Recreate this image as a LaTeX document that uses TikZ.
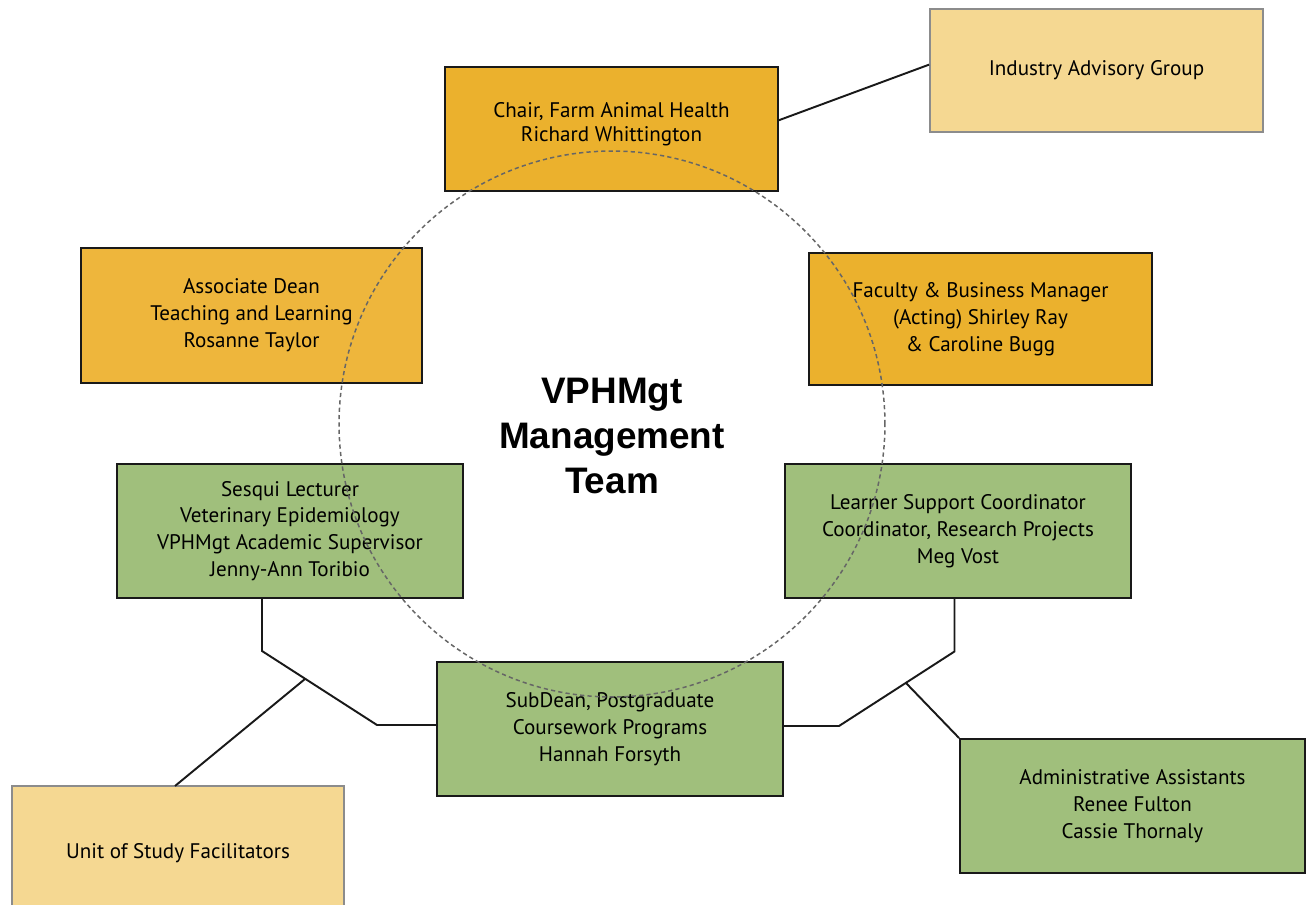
\documentclass[tikz,border=0pt]{standalone}
\usepackage{fontspec}
\setmainfont{PT Sans}
\newfontfamily\titlefont{Liberation Sans}
\usepackage{xcolor}
\usetikzlibrary{calc}
\definecolor{leadgold}{HTML}{EBB12D}
\definecolor{leadgoldlt}{HTML}{EEB63C}
\definecolor{outside}{HTML}{F5D892}
\definecolor{teamgreen}{HTML}{A0BF7C}
\tikzset{
  orgbox/.style    = {rectangle, draw=black!90, line width=1.1pt, align=center,
                      font=\fontsize{12}{15.3}\selectfont, inner sep=2pt},
  orglead/.style   = {orgbox, fill=leadgold},
  orgleadlt/.style = {orgbox, fill=leadgoldlt},
  orgout/.style    = {orgbox, fill=outside, draw=black!45},
  orgteam/.style   = {orgbox, fill=teamgreen},
  orglink/.style   = {draw=black!90, line width=1.1pt},
  orgring/.style   = {draw=black!60, line width=0.85pt, dash pattern=on 2.4pt off 1.8pt},
}

\begin{document}
\begin{tikzpicture}[x=0.02cm, y=-0.02cm]
  \useasboundingbox (0,0) rectangle (1306,905);

  \node[orglead,   minimum width=6.66cm, minimum height=2.48cm,
        font=\fontsize{12}{13.8}\selectfont, text depth=0.27cm] (chair) at (611.5,129) {Chair, Farm Animal Health\\Richard Whittington};
  \node[orgout,    minimum width=6.66cm, minimum height=2.46cm] (iag)     at (1096.5,70.5) {Industry Advisory Group};
  \node[orgleadlt, minimum width=6.82cm, minimum height=2.70cm] (adean)   at (251.5,315.5) {Associate Dean\\Teaching and Learning\\Rosanne Taylor};
  \node[orglead,   minimum width=6.86cm, minimum height=2.64cm] (fbm)     at (980.5,319)  {Faculty \& Business Manager\\(Acting) Shirley Ray\\\& Caroline Bugg};
  \node[orgteam,   minimum width=6.92cm, minimum height=2.68cm] (sesqui)  at (290,531)    {Sesqui Lecturer\\Veterinary Epidemiology\\VPHMgt Academic Supervisor\\Jenny-Ann Toribio};
  \node[orgteam,   minimum width=6.92cm, minimum height=2.68cm] (lsc)     at (958,531)    {Learner Support Coordinator\\Coordinator, Research Projects\\Meg Vost};
  \node[orgteam,   minimum width=6.92cm, minimum height=2.68cm] (subdean) at (610,729)    {SubDean, Postgraduate\\Coursework Programs\\Hannah Forsyth};
  \node[orgteam,   minimum width=6.90cm, minimum height=2.68cm] (admin)   at (1132.5,806) {Administrative Assistants\\Renee Fulton\\Cassie Thornaly};
  \node[orgout,    minimum width=6.64cm, minimum height=2.68cm] (unit)    at (178,853)    {Unit of Study Facilitators};

  \node[font=\titlefont\bfseries\fontsize{21}{25.5}\selectfont, align=center] (team) at (612,436) {VPHMgt\\Management\\Team};

  % bends and junctions of the two lower trees
  \coordinate (lbend) at (262,651);
  \coordinate (lknee) at (377,725);
  \coordinate (ljoin) at (305,679);
  \coordinate (lfoot) at (175,786);
  \coordinate (rbend) at (954.5,651.5);
  \coordinate (rknee) at (839,726);
  \coordinate (rjoin) at (906,683);

  \draw[orglink] (chair.3) -- (iag.178);
  \draw[orglink] (sesqui.south -| lbend) -- (lbend) -- (lknee) -- (subdean.west |- lknee);
  \draw[orglink] (ljoin) -- (lfoot);
  \draw[orglink] (lsc.south -| rbend) -- (rbend) -- (rknee) -- (subdean.east |- rknee);
  \draw[orglink] (rjoin) -- (admin.north west);

  \draw[orgring] (team.center |- 0,424) circle[radius=5.46cm];
\end{tikzpicture}
\end{document}
